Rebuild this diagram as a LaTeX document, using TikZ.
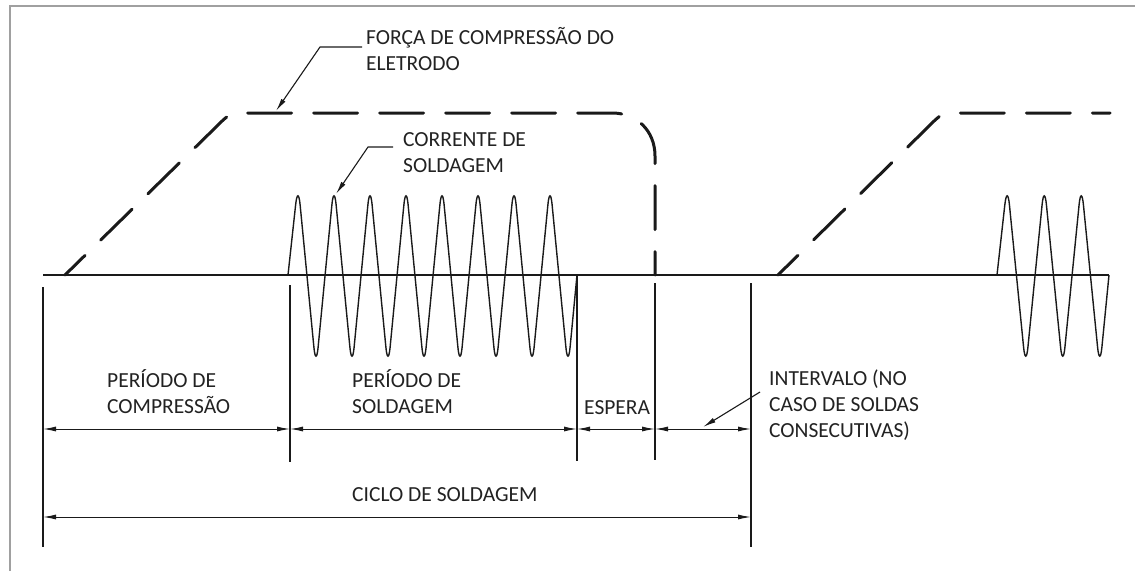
\documentclass[tikz,border=0pt]{standalone}
\usepackage{fontspec}
\setmainfont{Carlito}
\usetikzlibrary{arrows.meta}
\definecolor{ink}{HTML}{1A1A1A}
\definecolor{txt}{HTML}{222222}
\definecolor{frame}{HTML}{A0A0A0}
\begin{document}
\begin{tikzpicture}[x=1pt,y=-1pt,
  lbl/.style={inner sep=0pt,anchor=base west,text=txt,font=\fontsize{21.5}{26}\selectfont,align=left},
  force/.style={draw=ink,line width=3pt,dash pattern=on 44pt off 22pt,line cap=round},
  wave/.style={draw=ink,line width=1.4pt,rounded corners=22pt},
  ext/.style={draw=ink,line width=1.1pt},
  dim/.style={draw=ink,line width=1pt,{Latex[length=13pt,width=5pt]}-{Latex[length=13pt,width=5pt]}},
  leader/.style={draw=ink,line width=1.1pt,-{Latex[length=13pt,width=5pt]}}]
\useasboundingbox (0,0) rectangle (1135,571);
% frame
\draw[frame,line width=2pt] (10,571) -- (10,6) -- (1135,6);
% baseline
\coordinate (b0) at (43,275);
\coordinate (b1) at (1109,275);
\draw[ink,line width=1.6pt] (b0) -- (b1);
% electrode force curves
\draw[force,dash phase=16pt] (65,275) -- (215,128) .. controls (230,113) .. (245,113)
  -- (612,113) .. controls (637,113) and (655,131) .. (655,156) -- (655,275);
\draw[force,dash phase=16pt] (778,275) -- (927,128) .. controls (942,113) .. (957,113) -- (1110,113);
% welding current (first group)
\draw[wave] (288,275)
  \foreach \k in {0,...,7} { -- ({298+36*\k},183) -- ({316+36*\k},369) }
  [sharp corners] -- (577,275);
% welding current (second group)
\draw[wave] (997,275)
  \foreach \k in {0,1,2} { -- ({1007.25+37*\k},183) -- ({1025.75+37*\k},369) }
  [sharp corners] -- (1109,275);
% extension lines
\coordinate (e1t) at (43,287);  \coordinate (e1b) at (43,547);
\coordinate (e2t) at (290,285); \coordinate (e2b) at (290,462);
\coordinate (e3t) at (577,275); \coordinate (e3b) at (577,461);
\coordinate (e4t) at (655,283); \coordinate (e4b) at (655,460);
\coordinate (e5t) at (751,283); \coordinate (e5b) at (751,547);
\foreach \i in {1,...,5} { \draw[ext] (e\i t) -- (e\i b); }
% dimension lines
\coordinate (d1) at (43,429);  \coordinate (d2) at (290,429);
\coordinate (d3) at (577,429); \coordinate (d4) at (655,429);
\coordinate (d5) at (751,429);
\draw[dim] (d1) -- (d2);
\draw[dim] (d2) -- (d3);
\draw[dim] (d3) -- (d4);
\draw[dim] (d4) -- (d5);
\coordinate (c1) at (43,517); \coordinate (c2) at (751,517);
\draw[dim] (c1) -- (c2);
% labels (anchor = baseline of the last line)
\node[lbl] (tcomp) at (107,413) {PERÍODO DE\\COMPRESSÃO};
\node[lbl] (tsold) at (352,413) {PERÍODO DE\\SOLDAGEM};
\node[lbl] (tesp) at (584,414) {ESPERA};
\node[lbl] (tciclo) at (352,501) {CICLO DE SOLDAGEM};
\node[lbl] (tint) at (769,437) {INTERVALO (NO\\CASO DE SOLDAS\\CONSECUTIVAS)};
\node[lbl] (tforca) at (366,70) {FORÇA DE COMPRESSÃO DO\\ELETRODO};
\node[lbl] (tcorr) at (403,172) {CORRENTE DE\\SOLDAGEM};
% leaders
\coordinate (lf0) at (362,47); \coordinate (lf1) at (320,47); \coordinate (lf2) at (276,111);
\draw[leader] (lf0) -- (lf1) -- (lf2);
\coordinate (lc0) at (393,147); \coordinate (lc1) at (368,147); \coordinate (lc2) at (336,194);
\draw[leader] (lc0) -- (lc1) -- (lc2);
\coordinate (li0) at (760,392); \coordinate (li1) at (703,427);
\draw[leader] (li0) -- (li1);
\end{tikzpicture}
\end{document}
